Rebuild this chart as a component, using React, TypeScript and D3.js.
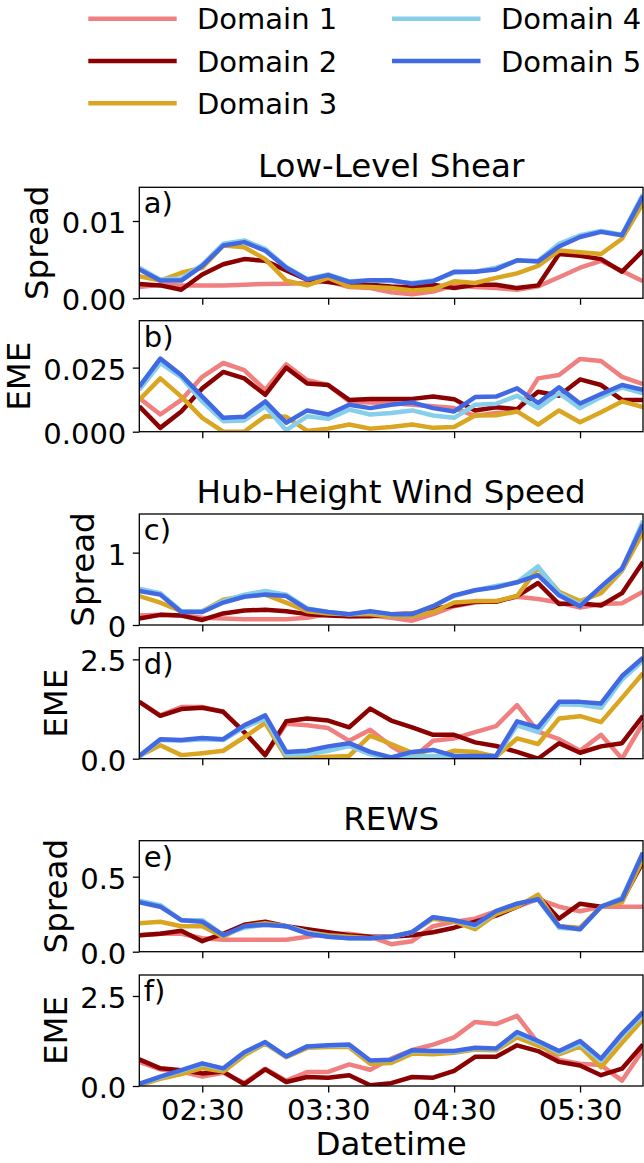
import React, { useEffect, useRef } from "react";
import * as d3 from "d3";

// ---------- categories / labels ----------
const times = [
  "02:00", "02:10", "02:20", "02:30", "02:40", "02:50", "03:00", "03:10", "03:20",
  "03:30", "03:40", "03:50", "04:00", "04:10", "04:20", "04:30", "04:40", "04:50",
  "05:00", "05:10", "05:20", "05:30", "05:40", "05:50", "06:00",
];
const xTickLabels = ["02:30", "03:30", "04:30", "05:30"];
const domainNames = ["Domain 1", "Domain 2", "Domain 3", "Domain 4", "Domain 5"];
const domainColors = ["#F08080", "#8B0000", "#DAA520", "#87CEEB", "#4169E1"];
const groupTitles = ["Low-Level Shear", "Hub-Height Wind Speed", "REWS"];
const panelLetters = ["a)", "b)", "c)", "d)", "e)", "f)"];
const panelYLabels = ["Spread", "EME", "Spread", "EME", "Spread", "EME"];
const panelYTicks = [[0, 0.01], [0, 0.025], [0, 1], [0, 2.5], [0, 0.5], [0, 2.5]];
const panelYFormats = [".2f", ".3f", "d", ".1f", ".1f", ".1f"];
const panelYMax = [0.01436, 0.0433, 1.534, 2.793, 0.74, 3.083];

// ---------- series values (Domain 1..5 per panel) ----------
const shearSpread = [
  [0.00145, 0.00176, 0.00167, 0.00167, 0.00167, 0.00176, 0.00185, 0.00189, 0.00198, 0.0022, 0.00145, 0.00132, 0.00079, 0.00053, 0.00088, 0.00167, 0.00145, 0.00132, 0.0011, 0.00154, 0.00273, 0.00396, 0.00485, 0.00352, 0.0022],
  [0.00185, 0.00167, 0.0011, 0.00308, 0.00441, 0.00507, 0.00485, 0.00361, 0.00242, 0.00211, 0.00176, 0.00176, 0.00154, 0.00141, 0.00176, 0.00132, 0.00176, 0.00176, 0.00132, 0.00167, 0.00573, 0.00551, 0.00507, 0.00344, 0.00617],
  [0.00286, 0.00229, 0.0033, 0.00396, 0.00683, 0.00661, 0.00507, 0.00229, 0.00167, 0.00264, 0.00154, 0.00145, 0.00132, 0.00101, 0.00119, 0.0022, 0.00198, 0.00264, 0.00322, 0.00419, 0.00617, 0.00595, 0.00573, 0.00771, 0.01233],
  [0.00396, 0.00242, 0.00256, 0.00432, 0.00705, 0.00749, 0.00639, 0.00405, 0.00251, 0.00308, 0.0022, 0.00229, 0.0022, 0.00198, 0.00229, 0.0033, 0.00344, 0.00396, 0.00485, 0.00485, 0.00705, 0.00815, 0.00872, 0.00824, 0.01344],
  [0.00374, 0.00229, 0.00229, 0.00419, 0.00683, 0.00727, 0.00617, 0.00396, 0.00242, 0.003, 0.00211, 0.00233, 0.00233, 0.00189, 0.0022, 0.00344, 0.00344, 0.00374, 0.00493, 0.00476, 0.0067, 0.00793, 0.00859, 0.00815, 0.01322],
];
const shearEME = [
  [0.0131, 0.0067, 0.0124, 0.0214, 0.0268, 0.024, 0.0163, 0.0263, 0.0201, 0.0182, 0.0118, 0.0114, 0.0112, 0.0105, 0.0099, 0.0092, 0.0062, 0.0073, 0.0079, 0.0208, 0.0221, 0.0284, 0.0276, 0.0214, 0.0186],
  [0.0099, 0.0015, 0.0079, 0.0169, 0.0233, 0.0208, 0.0144, 0.025, 0.0188, 0.0182, 0.0124, 0.0128, 0.0128, 0.0128, 0.0137, 0.0127, 0.0083, 0.0095, 0.0088, 0.0156, 0.014, 0.0204, 0.0182, 0.0124, 0.0124],
  [0.0124, 0.0208, 0.0137, 0.0054, 0.0, 0.0, 0.006, 0.0058, 0.0003, 0.0012, 0.0028, 0.0012, 0.0018, 0.0028, 0.0015, 0.0018, 0.0063, 0.0064, 0.0079, 0.0028, 0.0083, 0.0037, 0.0076, 0.0118, 0.0096],
  [0.0163, 0.0268, 0.0212, 0.0118, 0.0041, 0.0044, 0.0099, 0.0006, 0.006, 0.005, 0.0086, 0.0067, 0.0073, 0.0083, 0.0063, 0.0054, 0.0105, 0.0109, 0.014, 0.0092, 0.015, 0.0092, 0.0135, 0.0173, 0.015],
  [0.0176, 0.0285, 0.0221, 0.0137, 0.0054, 0.0058, 0.0118, 0.0035, 0.0083, 0.0067, 0.0105, 0.0092, 0.0105, 0.0114, 0.0092, 0.0079, 0.0135, 0.0137, 0.0169, 0.0112, 0.0173, 0.011, 0.0147, 0.0182, 0.0163],
];
const hubSpread = [
  [0.13, 0.14, 0.13, 0.1, 0.09, 0.08, 0.08, 0.08, 0.1, 0.15, 0.12, 0.13, 0.1, 0.06, 0.15, 0.26, 0.31, 0.33, 0.39, 0.36, 0.31, 0.24, 0.29, 0.3, 0.46],
  [0.09, 0.14, 0.13, 0.07, 0.16, 0.2, 0.21, 0.19, 0.15, 0.13, 0.12, 0.12, 0.15, 0.16, 0.22, 0.27, 0.32, 0.32, 0.4, 0.58, 0.29, 0.3, 0.27, 0.44, 0.87],
  [0.4, 0.31, 0.19, 0.19, 0.35, 0.4, 0.42, 0.31, 0.19, 0.16, 0.15, 0.15, 0.12, 0.12, 0.18, 0.31, 0.33, 0.33, 0.4, 0.79, 0.46, 0.33, 0.44, 0.75, 1.28],
  [0.5, 0.44, 0.19, 0.19, 0.33, 0.42, 0.47, 0.42, 0.23, 0.18, 0.15, 0.18, 0.15, 0.15, 0.26, 0.4, 0.48, 0.54, 0.59, 0.81, 0.44, 0.28, 0.52, 0.77, 1.44],
  [0.47, 0.42, 0.18, 0.18, 0.31, 0.39, 0.42, 0.4, 0.22, 0.18, 0.15, 0.19, 0.15, 0.15, 0.26, 0.41, 0.48, 0.52, 0.59, 0.69, 0.41, 0.26, 0.53, 0.78, 1.39],
];
const hubEME = [
  [1.43, 1.09, 1.3, 1.3, 1.18, 0.67, 0.09, 0.88, 0.84, 0.77, 0.45, 0.73, 0.32, 0.0, 0.45, 0.51, 0.67, 0.82, 1.35, 0.68, 0.49, 0.2, 0.6, 0.0, 0.9],
  [1.43, 1.08, 1.25, 1.28, 1.18, 0.67, 0.09, 0.94, 1.01, 0.96, 0.79, 1.26, 0.96, 0.79, 0.6, 0.6, 0.41, 0.32, 0.17, 0.0, 0.39, 0.15, 0.31, 0.39, 1.08],
  [0.07, 0.34, 0.09, 0.14, 0.2, 0.54, 0.9, 0.03, 0.03, 0.05, 0.07, 0.58, 0.37, 0.15, 0.03, 0.2, 0.17, 0.05, 0.51, 0.37, 1.01, 1.07, 0.92, 1.53, 2.15],
  [0.05, 0.47, 0.45, 0.49, 0.47, 0.79, 1.01, 0.09, 0.11, 0.2, 0.32, 0.11, 0.0, 0.05, 0.07, 0.05, 0.05, 0.05, 0.84, 0.67, 1.37, 1.36, 1.28, 1.99, 2.47],
  [0.07, 0.49, 0.47, 0.52, 0.49, 0.84, 1.09, 0.17, 0.2, 0.31, 0.39, 0.17, 0.03, 0.17, 0.22, 0.07, 0.07, 0.07, 0.94, 0.79, 1.43, 1.43, 1.39, 2.08, 2.54],
];
const rewsSpread = [
  [0.11, 0.12, 0.12, 0.09, 0.08, 0.08, 0.08, 0.08, 0.1, 0.12, 0.12, 0.1, 0.05, 0.07, 0.17, 0.2, 0.22, 0.27, 0.3, 0.35, 0.3, 0.27, 0.3, 0.3, 0.3],
  [0.11, 0.12, 0.14, 0.07, 0.12, 0.18, 0.2, 0.17, 0.15, 0.13, 0.11, 0.1, 0.1, 0.11, 0.13, 0.16, 0.2, 0.24, 0.3, 0.37, 0.22, 0.32, 0.3, 0.34, 0.6],
  [0.19, 0.2, 0.17, 0.17, 0.1, 0.17, 0.19, 0.17, 0.13, 0.11, 0.1, 0.09, 0.1, 0.13, 0.22, 0.2, 0.15, 0.25, 0.3, 0.38, 0.17, 0.16, 0.3, 0.33, 0.62],
  [0.34, 0.31, 0.21, 0.21, 0.11, 0.16, 0.18, 0.17, 0.13, 0.1, 0.09, 0.09, 0.1, 0.13, 0.23, 0.21, 0.17, 0.27, 0.32, 0.35, 0.16, 0.15, 0.3, 0.36, 0.66],
  [0.33, 0.3, 0.21, 0.2, 0.11, 0.17, 0.18, 0.17, 0.12, 0.1, 0.09, 0.09, 0.1, 0.13, 0.23, 0.21, 0.18, 0.27, 0.32, 0.35, 0.17, 0.15, 0.3, 0.35, 0.66],
];
const rewsEME = [
  [0.67, 0.46, 0.4, 0.26, 0.37, 0.08, 0.48, 0.15, 0.39, 0.39, 0.6, 0.45, 0.76, 1.0, 1.15, 1.35, 1.78, 1.72, 1.95, 1.2, 0.72, 0.62, 0.58, 0.15, 1.0],
  [0.74, 0.49, 0.44, 0.35, 0.4, 0.05, 0.46, 0.11, 0.25, 0.23, 0.3, 0.02, 0.08, 0.25, 0.23, 0.42, 0.81, 0.81, 1.13, 0.97, 0.67, 0.57, 0.3, 0.48, 1.15],
  [0.02, 0.2, 0.33, 0.5, 0.4, 0.85, 1.18, 0.8, 1.06, 1.08, 1.08, 0.62, 0.64, 0.9, 0.88, 0.92, 1.01, 0.99, 1.35, 1.12, 0.88, 1.1, 0.52, 1.2, 1.85],
  [0.05, 0.24, 0.42, 0.6, 0.47, 0.92, 1.2, 0.82, 1.1, 1.12, 1.13, 0.7, 0.72, 0.97, 0.96, 0.95, 1.04, 1.02, 1.45, 1.22, 0.93, 1.18, 0.7, 1.4, 1.98],
  [0.06, 0.26, 0.44, 0.63, 0.49, 0.94, 1.22, 0.82, 1.1, 1.13, 1.15, 0.71, 0.73, 0.99, 0.97, 0.97, 1.06, 1.04, 1.5, 1.25, 0.97, 1.25, 0.76, 1.45, 2.05],
];
const panelSeries = [shearSpread, shearEME, hubSpread, hubEME, rewsSpread, rewsEME];

// ---------- layout ----------
const W = 644;
const H = 1163;
const FONT = "'DejaVu Sans', sans-serif";
const TICK_FS = 29;
const LABEL_FS = 32.5;
const AX_LEFT = 139.3;
const AX_RIGHT = 643;
const PANEL_TOPS = [187.3, 320.7, 514, 647.7, 840.7, 975];
const PANEL_H = 111;
const LW = 4.5;

export default function App() {
  const ref = useRef<SVGSVGElement | null>(null);

  useEffect(() => {
    const svg = d3.select(ref.current);
    svg.selectAll("*").remove();
    const parse = d3.timeParse("%H:%M");
    const dates = times.map((t) => parse(t) as Date);
    const tickDates = xTickLabels.map((t) => parse(t) as Date);
    const x = d3
      .scaleTime()
      .domain([dates[0], dates[dates.length - 1]])
      .range([AX_LEFT, AX_RIGHT]);

    svg.append("rect").attr("width", W).attr("height", H).attr("fill", "white");

    // Legend
    const legend = svg.append("g");
    const legCols = [
      { lx0: 88.3, lx1: 176.7, tx: 197 },
      { lx0: 392, lx1: 480.5, tx: 501 },
    ];
    const legRows = [18.7, 61, 103.3];
    domainNames.forEach((name, i) => {
      const col = legCols[i < 3 ? 0 : 1];
      const row = legRows[i < 3 ? i : i - 3];
      legend
        .append("line")
        .attr("x1", col.lx0)
        .attr("x2", col.lx1)
        .attr("y1", row)
        .attr("y2", row)
        .attr("stroke", domainColors[i])
        .attr("stroke-width", LW);
      legend
        .append("text")
        .attr("x", col.tx)
        .attr("y", row + 10.6)
        .attr("font-family", FONT)
        .attr("font-size", TICK_FS)
        .attr("fill", "black")
        .text(name);
    });

    // Group titles
    groupTitles.forEach((t, gi) => {
      svg
        .append("text")
        .attr("x", (AX_LEFT + AX_RIGHT) / 2)
        .attr("y", PANEL_TOPS[gi * 2] - 10.7)
        .attr("text-anchor", "middle")
        .attr("font-family", FONT)
        .attr("font-size", LABEL_FS)
        .attr("fill", "black")
        .text(t);
    });

    panelSeries.forEach((series, pi) => {
      const top = PANEL_TOPS[pi];
      const bottom = top + PANEL_H;
      const y = d3.scaleLinear().domain([0, panelYMax[pi]]).range([bottom, top]);
      const g = svg.append("g");
      const clipId = `clip-${pi}`;
      g.append("clipPath")
        .attr("id", clipId)
        .append("rect")
        .attr("x", AX_LEFT)
        .attr("y", top)
        .attr("width", AX_RIGHT - AX_LEFT)
        .attr("height", PANEL_H);

      const line = d3
        .line<number>()
        .x((_, i) => x(dates[i]))
        .y((d) => y(d));

      const lg = g.append("g").attr("clip-path", `url(#${clipId})`);
      series.forEach((vals, si) => {
        lg.append("path")
          .datum(vals)
          .attr("d", line)
          .attr("fill", "none")
          .attr("stroke", domainColors[si])
          .attr("stroke-width", LW)
          .attr("stroke-linejoin", "round");
      });

      // y axis
      const fmt = d3.format(panelYFormats[pi]);
      const yAxis = d3
        .axisLeft(y)
        .tickValues(panelYTicks[pi])
        .tickSize(6.5)
        .tickPadding(6.5)
        .tickFormat((d) => fmt(d as number));
      const yg = g.append("g").attr("transform", `translate(${AX_LEFT},0)`).call(yAxis);
      yg.select(".domain").remove();
      yg.selectAll("line").attr("stroke", "black").attr("stroke-width", 1.3);
      yg.selectAll("text")
        .attr("font-family", FONT)
        .attr("font-size", TICK_FS)
        .attr("fill", "black")
        .attr("dy", "0.4em");

      // x axis
      const xAxis = d3
        .axisBottom(x)
        .tickValues(tickDates)
        .tickSize(6.5)
        .tickPadding(6.9)
        .tickFormat((d, i) => (pi === 5 ? xTickLabels[i] : ""));
      const xg = g.append("g").attr("transform", `translate(0,${bottom})`).call(xAxis);
      xg.select(".domain").remove();
      xg.selectAll("line").attr("stroke", "black").attr("stroke-width", 1.3);
      xg.selectAll("text")
        .attr("font-family", FONT)
        .attr("font-size", TICK_FS)
        .attr("fill", "black");

      // frame
      g.append("rect")
        .attr("x", AX_LEFT)
        .attr("y", top)
        .attr("width", AX_RIGHT - AX_LEFT)
        .attr("height", PANEL_H)
        .attr("fill", "none")
        .attr("stroke", "black")
        .attr("stroke-width", 1.3);

      // panel letter
      g.append("text")
        .attr("x", AX_LEFT + 4.5)
        .attr("y", top + 26)
        .attr("font-family", FONT)
        .attr("font-size", TICK_FS)
        .attr("fill", "black")
        .text(panelLetters[pi]);

      // y label positioned left of the tick labels
      let minX = AX_LEFT;
      yg.selectAll<SVGTextElement, unknown>("text").each(function () {
        const b = this.getBBox();
        minX = Math.min(minX, AX_LEFT + b.x);
      });
      const lx = minX - 13.4;
      const ly = (top + bottom) / 2;
      g.append("text")
        .attr("transform", `translate(${lx},${ly}) rotate(-90)`)
        .attr("text-anchor", "middle")
        .attr("font-family", FONT)
        .attr("font-size", LABEL_FS)
        .attr("fill", "black")
        .text(panelYLabels[pi]);
    });

    // x label
    svg
      .append("text")
      .attr("x", (AX_LEFT + AX_RIGHT) / 2)
      .attr("y", 1154.5)
      .attr("text-anchor", "middle")
      .attr("font-family", FONT)
      .attr("font-size", LABEL_FS)
      .attr("fill", "black")
      .text("Datetime");
  }, []);

  return (
    <svg
      ref={ref}
      width={W}
      height={H}
      viewBox={`0 0 ${W} ${H}`}
      style={{ position: "absolute", left: 0, top: 0, display: "block" }}
    />
  );
}
